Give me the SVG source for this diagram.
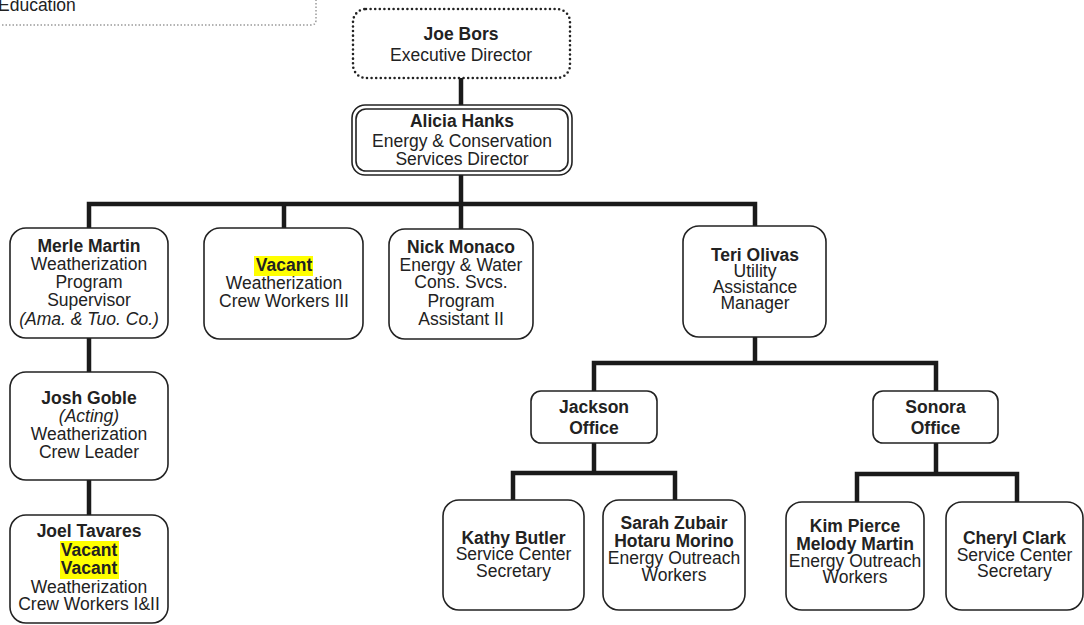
<svg xmlns="http://www.w3.org/2000/svg" width="1084" height="625" viewBox="0 0 1084 625">
  <style>
    text { font-family: "Liberation Sans", Arial, sans-serif; font-size: 17.5px; fill: #222; text-anchor: middle; }
    .b { font-weight: bold; }
    .i { font-style: italic; }
    .box { fill: #fff; stroke: #222; stroke-width: 1.6; }
    .conn { fill: none; stroke: #1a1a1a; stroke-width: 4.5; stroke-linejoin: miter; stroke-linecap: butt; }
    .hl { fill: #ffff00; }
  </style>
  <rect width="1084" height="625" fill="#fff"/>

  <!-- partial note box in the corner -->
  <g id="note">
    <path d="M -5 25 H 311 Q 316 25 316 20 V -5" fill="none" stroke="#9a9a9a" stroke-width="1.5" stroke-dasharray="1.5 2"/>
    <text x="-2" y="11" style="text-anchor:start">Education</text>
  </g>

  <!-- reporting lines -->
  <g id="connectors">
    <path class="conn" d="M461 78 V105"/>
    <path class="conn" d="M461 175 V229"/>
    <path class="conn" d="M89 228 V204 H755 V226"/>
    <path class="conn" d="M284 204 V228"/>
    <path class="conn" d="M89 338 V372"/>
    <path class="conn" d="M89 480 V515"/>
    <path class="conn" d="M755 337 V363"/>
    <path class="conn" d="M594 391 V363 H936 V391"/>
    <path class="conn" d="M594 443 V473"/>
    <path class="conn" d="M513 500 V473 H675 V500"/>
    <path class="conn" d="M936 443 V474"/>
    <path class="conn" d="M857 502 V474 H1017 V502"/>
  </g>

  <g id="joe-bors">
    <rect x="353" y="9" width="217" height="69" rx="13" fill="#fff" stroke="#222" stroke-width="2.6" stroke-linecap="round" stroke-dasharray="0 4.6"/>
    <text x="461" y="40" class="b">Joe Bors</text>
    <text x="461" y="61">Executive Director</text>
  </g>

  <g id="alicia-hanks">
    <rect class="box" x="352" y="105" width="220" height="70" rx="13"/>
    <rect class="box" x="356" y="109" width="212" height="62" rx="10"/>
    <text x="462" y="127" class="b">Alicia Hanks</text>
    <text x="462" y="147">Energy &amp; Conservation</text>
    <text x="462" y="165">Services Director</text>
  </g>

  <g id="merle-martin">
    <rect class="box" x="10" y="228" width="158" height="110" rx="16"/>
    <text x="89" y="252" class="b">Merle Martin</text>
    <text x="89" y="270">Weatherization</text>
    <text x="89" y="288">Program</text>
    <text x="89" y="306">Supervisor</text>
    <text x="89" y="325" class="i">(Ama. &amp; Tuo. Co.)</text>
  </g>

  <g id="vacant-crew-iii">
    <rect class="box" x="204" y="228" width="159" height="111" rx="16"/>
    <rect class="hl" x="254" y="256" width="59" height="20"/>
    <text x="284" y="271" class="b">Vacant</text>
    <text x="284" y="289">Weatherization</text>
    <text x="284" y="307">Crew Workers III</text>
  </g>

  <g id="nick-monaco">
    <rect class="box" x="389" y="229" width="144" height="110" rx="16"/>
    <text x="461" y="253" class="b">Nick Monaco</text>
    <text x="461" y="271">Energy &amp; Water</text>
    <text x="461" y="288">Cons. Svcs.</text>
    <text x="461" y="307">Program</text>
    <text x="461" y="325">Assistant II</text>
  </g>

  <g id="teri-olivas">
    <rect class="box" x="683" y="226" width="143" height="111" rx="16"/>
    <text x="755" y="261" class="b">Teri Olivas</text>
    <text x="755" y="277">Utility</text>
    <text x="755" y="293">Assistance</text>
    <text x="755" y="309">Manager</text>
  </g>

  <g id="josh-goble">
    <rect class="box" x="10" y="372" width="158" height="108" rx="16"/>
    <text x="89" y="404" class="b">Josh Goble</text>
    <text x="89" y="422" class="i">(Acting)</text>
    <text x="89" y="440">Weatherization</text>
    <text x="89" y="458">Crew Leader</text>
  </g>

  <g id="joel-tavares">
    <rect class="box" x="10" y="515" width="158" height="108" rx="16"/>
    <rect class="hl" x="60" y="541" width="59" height="38"/>
    <text x="89" y="537" class="b">Joel Tavares</text>
    <text x="89" y="556" class="b">Vacant</text>
    <text x="89" y="574" class="b">Vacant</text>
    <text x="89" y="593">Weatherization</text>
    <text x="89" y="610">Crew Workers I&amp;II</text>
  </g>

  <g id="jackson-office">
    <rect class="box" x="531" y="391" width="126" height="52" rx="10"/>
    <text x="594" y="413" class="b">Jackson</text>
    <text x="594" y="434" class="b">Office</text>
  </g>

  <g id="sonora-office">
    <rect class="box" x="873" y="391" width="125" height="52" rx="10"/>
    <text x="935.5" y="413" class="b">Sonora</text>
    <text x="935.5" y="434" class="b">Office</text>
  </g>

  <g id="kathy-butler">
    <rect class="box" x="443" y="500" width="141" height="110" rx="16"/>
    <text x="513.5" y="544" class="b">Kathy Butler</text>
    <text x="513.5" y="560">Service Center</text>
    <text x="513.5" y="577">Secretary</text>
  </g>

  <g id="outreach-jackson">
    <rect class="box" x="603" y="500" width="142" height="110" rx="16"/>
    <text x="674" y="529" class="b">Sarah Zubair</text>
    <text x="674" y="547" class="b">Hotaru Morino</text>
    <text x="674" y="564">Energy Outreach</text>
    <text x="674" y="581">Workers</text>
  </g>

  <g id="outreach-sonora">
    <rect class="box" x="786" y="502" width="138" height="108" rx="16"/>
    <text x="855" y="532" class="b">Kim Pierce</text>
    <text x="855" y="550" class="b">Melody Martin</text>
    <text x="855" y="567">Energy Outreach</text>
    <text x="855" y="583">Workers</text>
  </g>

  <g id="cheryl-clark">
    <rect class="box" x="946" y="502" width="137" height="108" rx="16"/>
    <text x="1014.5" y="544" class="b">Cheryl Clark</text>
    <text x="1014.5" y="561">Service Center</text>
    <text x="1014.5" y="577">Secretary</text>
  </g>
</svg>
